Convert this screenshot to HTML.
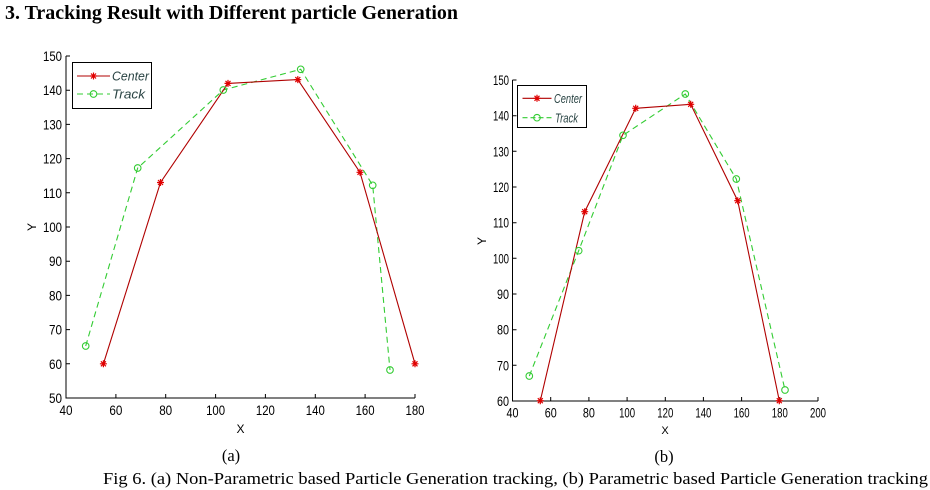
<!DOCTYPE html>
<html><head><meta charset="utf-8"><style>
html,body{margin:0;padding:0;background:#fff;}
svg{display:block;}
</style></head><body>
<svg width="930" height="490" viewBox="0 0 930 490" xmlns="http://www.w3.org/2000/svg">
<defs>
<g id="st"><path d="M-3.5,0H3.5M0,-3.5V3.5M-2.5,-2.5L2.5,2.5M-2.5,2.5L2.5,-2.5" stroke="#e00000" stroke-width="1.2" fill="none"/></g>
<g id="ci"><circle r="3.3" fill="none" stroke="#33cc33" stroke-width="1.1"/></g>
</defs>
<rect width="930" height="490" fill="#fff"/>
<text x="5" y="19" font-family="Liberation Serif, serif" font-weight="bold" font-size="20" textLength="453" lengthAdjust="spacingAndGlyphs" fill="#000">3. Tracking Result with Different particle Generation</text>

<!-- Chart A -->
<g font-family="Liberation Sans, sans-serif" font-size="14" fill="#000">
<path d="M66,56V398H415" stroke="#000" stroke-width="1" fill="none"/>
<path d="M66,398v-4M115.9,398v-4M165.7,398v-4M215.6,398v-4M265.4,398v-4M315.3,398v-4M365.1,398v-4M415,398v-4
M66,398h4M66,363.8h4M66,329.6h4M66,295.4h4M66,261.2h4M66,227h4M66,192.8h4M66,158.6h4M66,124.4h4M66,90.2h4M66,56h4" stroke="#000" stroke-width="1"/>
<g text-anchor="middle">
<text x="66" y="415" textLength="13" lengthAdjust="spacingAndGlyphs">40</text>
<text x="115.9" y="415" textLength="13" lengthAdjust="spacingAndGlyphs">60</text>
<text x="165.7" y="415" textLength="13" lengthAdjust="spacingAndGlyphs">80</text>
<text x="215.6" y="415" textLength="19" lengthAdjust="spacingAndGlyphs">100</text>
<text x="265.4" y="415" textLength="19" lengthAdjust="spacingAndGlyphs">120</text>
<text x="315.3" y="415" textLength="19" lengthAdjust="spacingAndGlyphs">140</text>
<text x="365.1" y="415" textLength="19" lengthAdjust="spacingAndGlyphs">160</text>
<text x="415" y="415" textLength="19" lengthAdjust="spacingAndGlyphs">180</text>
</g>
<g text-anchor="end">
<text x="62" y="403" textLength="13" lengthAdjust="spacingAndGlyphs">50</text>
<text x="62" y="368.8" textLength="13" lengthAdjust="spacingAndGlyphs">60</text>
<text x="62" y="334.6" textLength="13" lengthAdjust="spacingAndGlyphs">70</text>
<text x="62" y="300.4" textLength="13" lengthAdjust="spacingAndGlyphs">80</text>
<text x="62" y="266.2" textLength="13" lengthAdjust="spacingAndGlyphs">90</text>
<text x="62" y="232" textLength="19" lengthAdjust="spacingAndGlyphs">100</text>
<text x="62" y="197.8" textLength="19" lengthAdjust="spacingAndGlyphs">110</text>
<text x="62" y="163.6" textLength="19" lengthAdjust="spacingAndGlyphs">120</text>
<text x="62" y="129.4" textLength="19" lengthAdjust="spacingAndGlyphs">130</text>
<text x="62" y="95.2" textLength="19" lengthAdjust="spacingAndGlyphs">140</text>
<text x="62" y="61" textLength="19" lengthAdjust="spacingAndGlyphs">150</text>
</g>
<text x="240.5" y="433" text-anchor="middle" font-size="12">X</text>
<text transform="translate(36,227) rotate(-90)" text-anchor="middle" font-size="12">Y</text>

<polyline points="85.7,346 137.7,168 223.3,90 300.7,69.3 372.7,185.3 390,370" fill="none" stroke="#33cc33" stroke-width="1.1" stroke-dasharray="6,4"/>
<polyline points="103.4,363.8 160.5,182.5 228,83.4 297.8,79.6 360,172.3 415,363.8" fill="none" stroke="#b00000" stroke-width="1.1"/>
<use href="#ci" x="85.7" y="346"/><use href="#ci" x="137.7" y="168"/><use href="#ci" x="223.3" y="90"/><use href="#ci" x="300.7" y="69.3"/><use href="#ci" x="372.7" y="185.3"/><use href="#ci" x="390" y="370"/>
<use href="#st" x="103.4" y="363.8"/><use href="#st" x="160.5" y="182.5"/><use href="#st" x="228" y="83.4"/><use href="#st" x="297.8" y="79.6"/><use href="#st" x="360" y="172.3"/><use href="#st" x="415" y="363.8"/>

<rect x="72.5" y="62.5" width="79" height="46" fill="#fff" stroke="#000" stroke-width="1"/>
<path d="M77,76H110" stroke="#b00000" stroke-width="1.1"/>
<use href="#st" x="93.5" y="76"/>
<path d="M77,94H110" stroke="#33cc33" stroke-width="1.1" stroke-dasharray="6,4"/>
<use href="#ci" x="93.5" y="94"/>
<text x="112" y="80.5" font-size="13" font-style="italic" fill="#2a4444" textLength="37" lengthAdjust="spacingAndGlyphs">Center</text>
<text x="112" y="98.5" font-size="13" font-style="italic" fill="#2a4444" textLength="33" lengthAdjust="spacingAndGlyphs">Track</text>
</g>

<!-- Chart B -->
<g font-family="Liberation Sans, sans-serif" font-size="14" fill="#000">
<path d="M512.5,80V401H818" stroke="#000" stroke-width="1" fill="none"/>
<path d="M512.5,401v-4M550.7,401v-4M588.9,401v-4M627.1,401v-4M665.3,401v-4M703.4,401v-4M741.6,401v-4M779.8,401v-4M818,401v-4
M512.5,401h4M512.5,365.3h4M512.5,329.7h4M512.5,294h4M512.5,258.3h4M512.5,222.7h4M512.5,187h4M512.5,151.3h4M512.5,115.7h4M512.5,80h4" stroke="#000" stroke-width="1"/>
<g text-anchor="middle">
<text x="512.5" y="417.5" textLength="12" lengthAdjust="spacingAndGlyphs">40</text>
<text x="550.7" y="417.5" textLength="12" lengthAdjust="spacingAndGlyphs">60</text>
<text x="588.9" y="417.5" textLength="12" lengthAdjust="spacingAndGlyphs">80</text>
<text x="627.1" y="417.5" textLength="16" lengthAdjust="spacingAndGlyphs">100</text>
<text x="665.3" y="417.5" textLength="16" lengthAdjust="spacingAndGlyphs">120</text>
<text x="703.4" y="417.5" textLength="16" lengthAdjust="spacingAndGlyphs">140</text>
<text x="741.6" y="417.5" textLength="16" lengthAdjust="spacingAndGlyphs">160</text>
<text x="779.8" y="417.5" textLength="16" lengthAdjust="spacingAndGlyphs">180</text>
<text x="818" y="417.5" textLength="16" lengthAdjust="spacingAndGlyphs">200</text>
</g>
<g text-anchor="end">
<text x="509" y="406" textLength="12" lengthAdjust="spacingAndGlyphs">60</text>
<text x="509" y="370.3" textLength="12" lengthAdjust="spacingAndGlyphs">70</text>
<text x="509" y="334.7" textLength="12" lengthAdjust="spacingAndGlyphs">80</text>
<text x="509" y="299" textLength="12" lengthAdjust="spacingAndGlyphs">90</text>
<text x="509" y="263.3" textLength="16" lengthAdjust="spacingAndGlyphs">100</text>
<text x="509" y="227.7" textLength="16" lengthAdjust="spacingAndGlyphs">110</text>
<text x="509" y="192" textLength="16" lengthAdjust="spacingAndGlyphs">120</text>
<text x="509" y="156.3" textLength="16" lengthAdjust="spacingAndGlyphs">130</text>
<text x="509" y="120.7" textLength="16" lengthAdjust="spacingAndGlyphs">140</text>
<text x="509" y="85" textLength="16" lengthAdjust="spacingAndGlyphs">150</text>
</g>
<text x="665" y="434" text-anchor="middle" font-size="11">X</text>
<text transform="translate(486,241) rotate(-90)" text-anchor="middle" font-size="12">Y</text>

<polyline points="529.3,376 578.7,250.7 623,135.3 685.3,94 736.3,179 785,390" fill="none" stroke="#33cc33" stroke-width="1.1" stroke-dasharray="6,4"/>
<polyline points="540.3,400.7 584.7,211.7 635.7,108.3 690.7,104.3 737.7,200.7 779.3,400.7" fill="none" stroke="#b00000" stroke-width="1.1"/>
<use href="#ci" x="529.3" y="376"/><use href="#ci" x="578.7" y="250.7"/><use href="#ci" x="623" y="135.3"/><use href="#ci" x="685.3" y="94"/><use href="#ci" x="736.3" y="179"/><use href="#ci" x="785" y="390"/>
<use href="#st" x="540.3" y="400.7"/><use href="#st" x="584.7" y="211.7"/><use href="#st" x="635.7" y="108.3"/><use href="#st" x="690.7" y="104.3"/><use href="#st" x="737.7" y="200.7"/><use href="#st" x="779.3" y="400.7"/>

<rect x="517.5" y="85.5" width="69" height="42" fill="#fff" stroke="#000" stroke-width="1"/>
<path d="M522.5,98.3H551.5" stroke="#b00000" stroke-width="1.1"/>
<use href="#st" x="537" y="98.3"/>
<path d="M522.5,117.7H551.5" stroke="#33cc33" stroke-width="1.1" stroke-dasharray="5,3"/>
<use href="#ci" x="537" y="117.7"/>
<text x="554" y="103" font-size="13" font-style="italic" fill="#2a4444" textLength="28" lengthAdjust="spacingAndGlyphs">Center</text>
<text x="555" y="122.4" font-size="13" font-style="italic" fill="#2a4444" textLength="23" lengthAdjust="spacingAndGlyphs">Track</text>
</g>

<g font-family="Liberation Serif, serif" font-size="16.5" fill="#000">
<text x="231" y="461" text-anchor="middle">(a)</text>
<text x="664" y="462" text-anchor="middle">(b)</text>
<text x="103" y="484" textLength="825" lengthAdjust="spacingAndGlyphs">Fig 6. (a) Non-Parametric based Particle Generation tracking, (b) Parametric based Particle Generation tracking</text>
</g>
</svg>
</body></html>
